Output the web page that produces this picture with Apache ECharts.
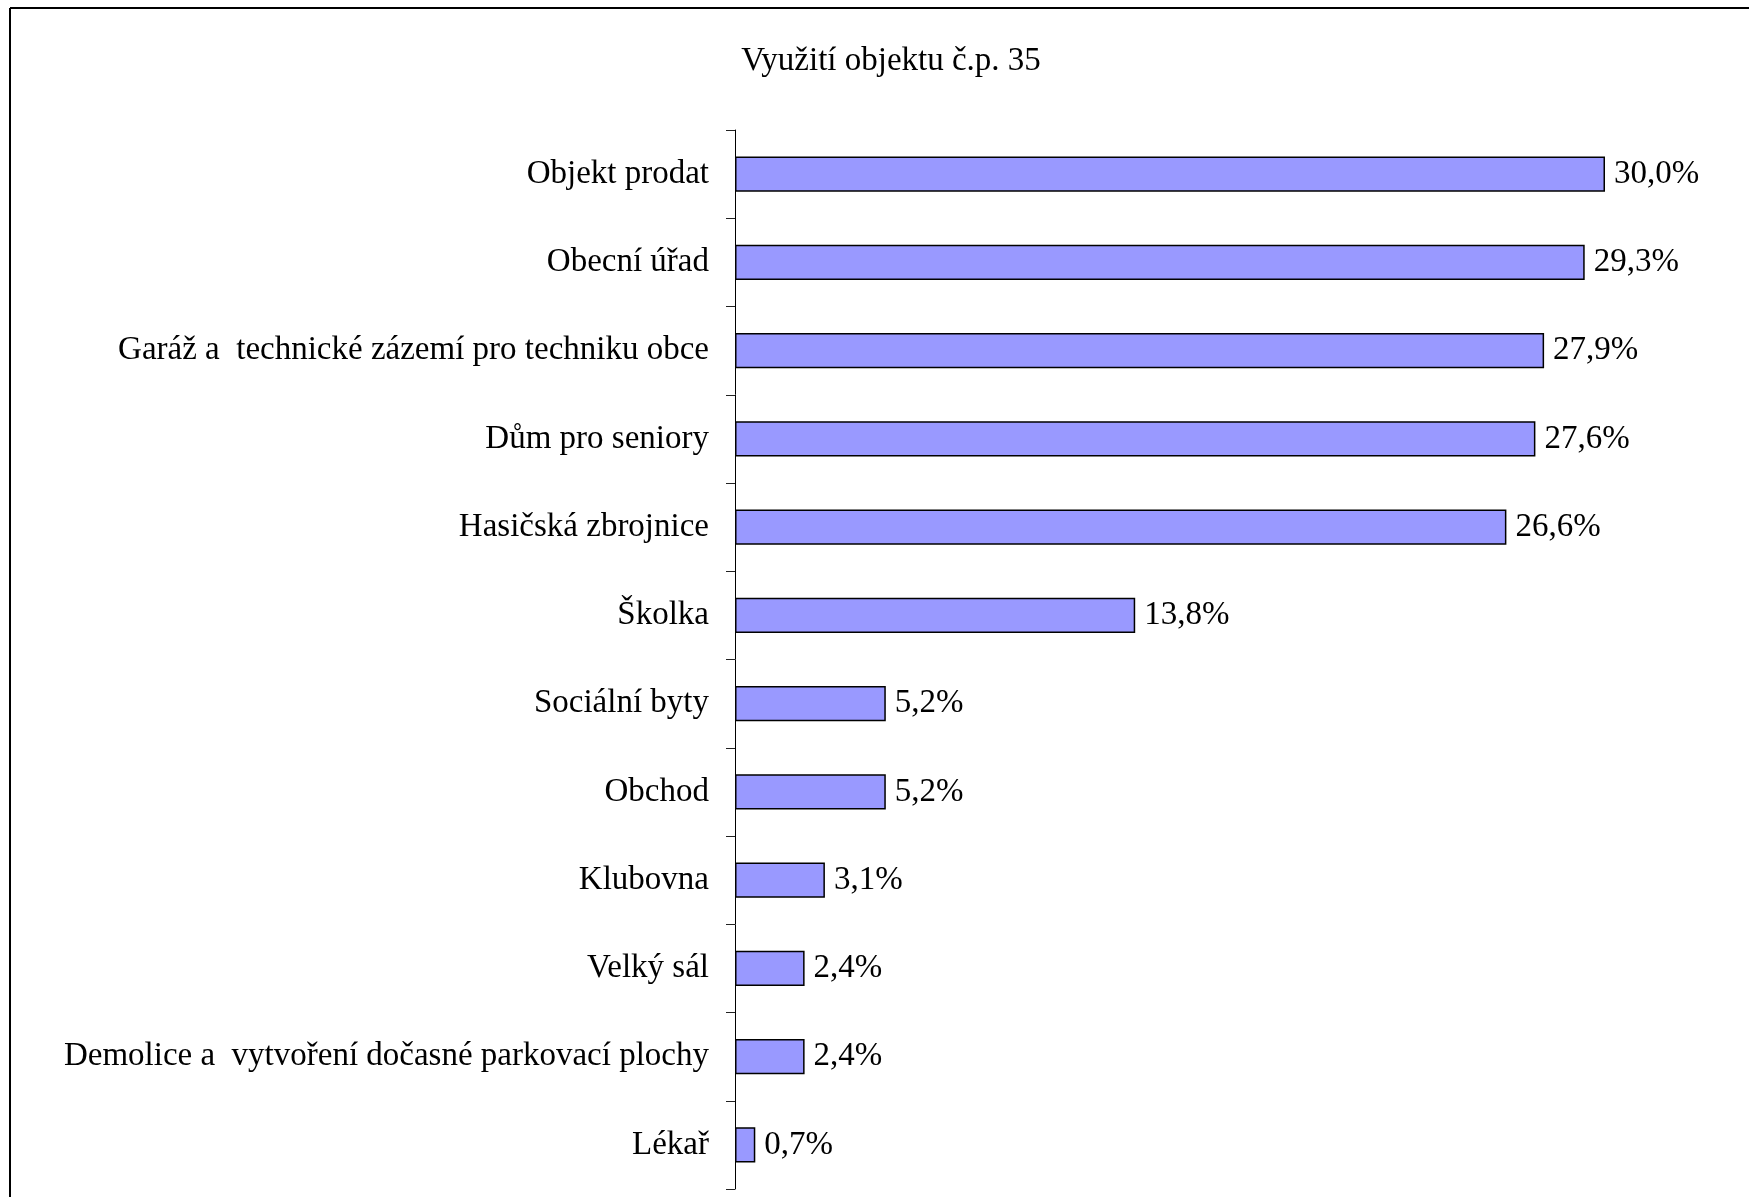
<!DOCTYPE html>
<html>
<head>
<meta charset="utf-8">
<title>Využití objektu č.p. 35</title>
<script src="https://cdn.jsdelivr.net/npm/echarts@6/dist/echarts.min.js"></script>
<style>
  html, body { margin: 0; padding: 0; background: #fff; }
  #chart { width: 1749px; height: 1197px; }
</style>
</head>
<body>
<div id="chart"></div>
<script>
  // data
  var categories = [
    'Objekt prodat',
    'Obecní úřad',
    'Garáž a  technické zázemí pro techniku obce',
    'Dům pro seniory',
    'Hasičská zbrojnice',
    'Školka',
    'Sociální byty',
    'Obchod',
    'Klubovna',
    'Velký sál',
    'Demolice a  vytvoření dočasné parkovací plochy',
    'Lékař'
  ]
  var values = [30.0, 29.3, 27.9, 27.6, 26.6, 13.8, 5.2, 5.2, 3.1, 2.4, 2.4, 0.7]

  var serif = '"Liberation Serif", "DejaVu Serif", serif'

  var myChart = echarts.init(document.getElementById('chart'))
  var option = {
    backgroundColor: '#fff',
    animation: false,
    title: {
      text: 'Využití objektu č.p. 35',
      left: 886,
      textAlign: 'center',
      top: 40,
      textStyle: {
        fontFamily: serif,
        fontSize: 33,
        fontWeight: 'normal',
        color: '#000'
      }
    },
    // frame of the slide box
    graphic: [
      {
        type: 'line',
        shape: { x1: 10, y1: 8, x2: 1749, y2: 8 },
        style: { stroke: '#000', lineWidth: 2 }
      },
      {
        type: 'line',
        shape: { x1: 10, y1: 8, x2: 10, y2: 1197 },
        style: { stroke: '#000', lineWidth: 2 }
      }
    ],
    grid: {
      left: 735,
      right: 86,
      top: 130,
      bottom: 8
    },
    xAxis: {
      type: 'value',
      min: 0,
      max: 32,
      show: false
    },
    yAxis: {
      type: 'category',
      inverse: true,
      data: categories,
      axisLine: {
        lineStyle: { color: '#000', width: 1 }
      },
      axisTick: {
        show: true,
        alignWithLabel: false,
        length: 9,
        lineStyle: { color: '#222', width: 1 }
      },
      axisLabel: {
        margin: 26,
        fontFamily: serif,
        fontSize: 33,
        color: '#000'
      },
      splitLine: { show: false }
    },
    series: [
      {
        type: 'bar',
        data: values,
        barCategoryGap: '60%',
        itemStyle: {
          color: '#9999FF',
          borderColor: '#000',
          borderWidth: 1.5
        },
        label: {
          show: true,
          position: 'right',
          distance: 9,
          fontFamily: serif,
          fontSize: 33,
          color: '#000',
          formatter: function (p) {
            return p.value.toFixed(1).replace('.', ',') + '%'
          }
        }
      }
    ]
  }
  myChart.setOption(option)
</script>
</body>
</html>
